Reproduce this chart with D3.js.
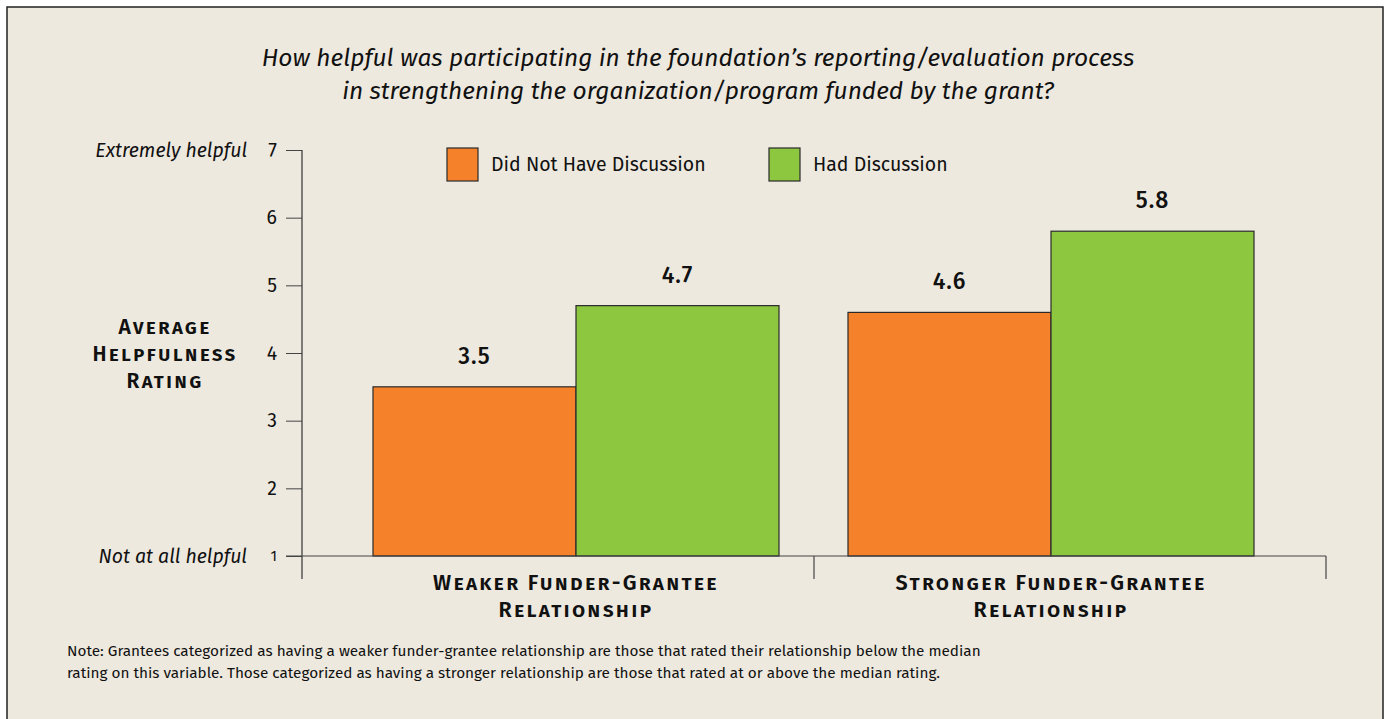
<!DOCTYPE html>
<html>
<head>
<meta charset="utf-8">
<script src="https://cdn.jsdelivr.net/npm/d3@7/dist/d3.min.js"></script>
<style>
  html, body { margin: 0; padding: 0; background: #ffffff; }
  svg { display: block; }
  text { font-family: "Fira Sans", "Noto Sans", "Open Sans", sans-serif; fill: #111; }
</style>
</head>
<body>
<svg id="chart" width="1385" height="719"></svg>
<script>
const categories = ["Weaker Funder-Grantee|Relationship", "Stronger Funder-Grantee|Relationship"];
const seriesNames = ["Did Not Have Discussion", "Had Discussion"];
const didNotHave = [3.5, 4.6];
const hadDiscussion = [4.7, 5.8];
const yTicks = [1, 2, 3, 4, 5, 6, 7];
const titleLines = ["How helpful was participating in the foundation\u2019s reporting/evaluation process",
                    "in strengthening the organization/program funded by the grant?"];
const yTitleLines = ["Average", "Helpfulness", "Rating"];
const noteLines = ["Note: Grantees categorized as having a weaker funder-grantee relationship are those that rated their relationship below the median",
                   "rating on this variable. Those categorized as having a stronger relationship are those that rated at or above the median rating."];
const colors = ["#F5822A", "#8DC63F"];

const svg = d3.select("#chart");
svg.append("rect").attr("x", 7).attr("y", 7).attr("width", 1376).attr("height", 720)
  .attr("fill", "#EEE9DF").attr("stroke", "#222").attr("stroke-width", 1.5);

// title
svg.append("g").selectAll("text").data(titleLines).join("text")
  .attr("x", 698).attr("y", (d, i) => 66 + i * 33)
  .attr("text-anchor", "middle").attr("font-style", "italic")
  .attr("font-size", 24.5).text(d => d);

const y = d3.scaleLinear().domain([1, 7]).range([556, 150]);
const xGroup = d3.scaleBand().domain(d3.range(categories.length)).range([373, 1254]).paddingInner(69 / 475).paddingOuter(0);
const xSub = d3.scaleBand().domain([0, 1]).range([0, xGroup.bandwidth()]);
const xAxisScale = d3.scaleBand().domain(d3.range(categories.length)).range([302, 1326]);

// y axis
const yAxis = d3.axisLeft(y).tickValues(yTicks).tickFormat(d3.format("d")).tickSize(16).tickPadding(9);
const gy = svg.append("g").attr("transform", "translate(302,0)").call(yAxis);
gy.select(".domain").remove();
gy.selectAll(".tick line").attr("stroke", "#444");
gy.selectAll(".tick text").attr("font-size", d => d === 1 ? 15 : 19.5).attr("fill", "#111")
  .attr("font-family", '"Fira Sans", "Noto Sans", sans-serif');
svg.append("line").attr("x1", 302).attr("x2", 302).attr("y1", y(7)).attr("y2", 579).attr("stroke", "#333").attr("stroke-width", 1.2);

// y extreme labels
svg.append("text").attr("x", 247).attr("y", y(7) + 7).attr("text-anchor", "end").attr("font-style", "italic").attr("font-size", 19.5).text("Extremely helpful");
svg.append("text").attr("x", 247).attr("y", y(1) + 7).attr("text-anchor", "end").attr("font-style", "italic").attr("font-size", 19.5).text("Not at all helpful");

// y title small caps
svg.append("g").selectAll("text").data(yTitleLines).join("text")
  .attr("x", 165).attr("y", (d, i) => 334 + i * 27)
  .attr("text-anchor", "middle").attr("font-weight", 600).attr("font-size", 21)
  .attr("letter-spacing", 2.2).style("font-variant", "small-caps").text(d => d);

// bars
const groups = svg.append("g").selectAll("g").data(categories).join("g")
  .attr("transform", (d, i) => `translate(${xGroup(i)},0)`);
groups.selectAll("rect").data((d, i) => [didNotHave[i], hadDiscussion[i]]).join("rect")
  .attr("x", (d, j) => xSub(j)).attr("width", xSub.bandwidth())
  .attr("y", d => y(d)).attr("height", d => y(1) - y(d))
  .attr("fill", (d, j) => colors[j]).attr("stroke", "#2a2a2a").attr("stroke-width", 1.2);
groups.selectAll("text").data((d, i) => [didNotHave[i], hadDiscussion[i]]).join("text")
  .attr("x", (d, j) => xSub(j) + xSub.bandwidth() / 2).attr("y", d => y(d) - 23)
  .attr("text-anchor", "middle").attr("font-size", 23).attr("font-weight", 500)
  .attr("letter-spacing", 1)
  .text(d => d.toFixed(1));

// x axis baseline and category ticks
svg.append("line").attr("x1", 286).attr("x2", 1326).attr("y1", y(1)).attr("y2", y(1)).attr("stroke", "#444").attr("stroke-width", 1.2);
const xTickPos = [xAxisScale(0), xAxisScale(1), xAxisScale(1) + xAxisScale.bandwidth()];
svg.append("g").selectAll("line").data(xTickPos.slice(1)).join("line")
  .attr("x1", d => d).attr("x2", d => d).attr("y1", y(1)).attr("y2", 579)
  .attr("stroke", "#444").attr("stroke-width", 1.2);

// category labels
const catG = svg.append("g").selectAll("g").data(categories).join("g");
catG.each(function (d, i) {
  const cx = xGroup(i) + xGroup.bandwidth() / 2;
  d3.select(this).selectAll("text").data(d.split("|")).join("text")
    .attr("x", cx).attr("y", (t, k) => 590 + k * 27)
    .attr("text-anchor", "middle").attr("font-weight", 600).attr("font-size", 21.5)
    .attr("letter-spacing", 2.2).style("font-variant", "small-caps").text(t => t);
});

// legend
const legendX = [447, 769];
const leg = svg.append("g").selectAll("g").data(seriesNames).join("g")
  .attr("transform", (d, i) => `translate(${legendX[i]},148)`);
leg.append("rect").attr("width", 31).attr("height", 33).attr("fill", (d, i) => colors[i]).attr("stroke", "#2a2a2a").attr("stroke-width", 1.2);
leg.append("text").attr("x", 44).attr("y", 23).attr("font-size", 19.5).text(d => d);

// note
svg.append("g").selectAll("text").data(noteLines).join("text")
  .attr("x", 67).attr("y", (d, i) => 656 + i * 22).attr("font-size", 15.3).text(d => d);
</script>
</body>
</html>
